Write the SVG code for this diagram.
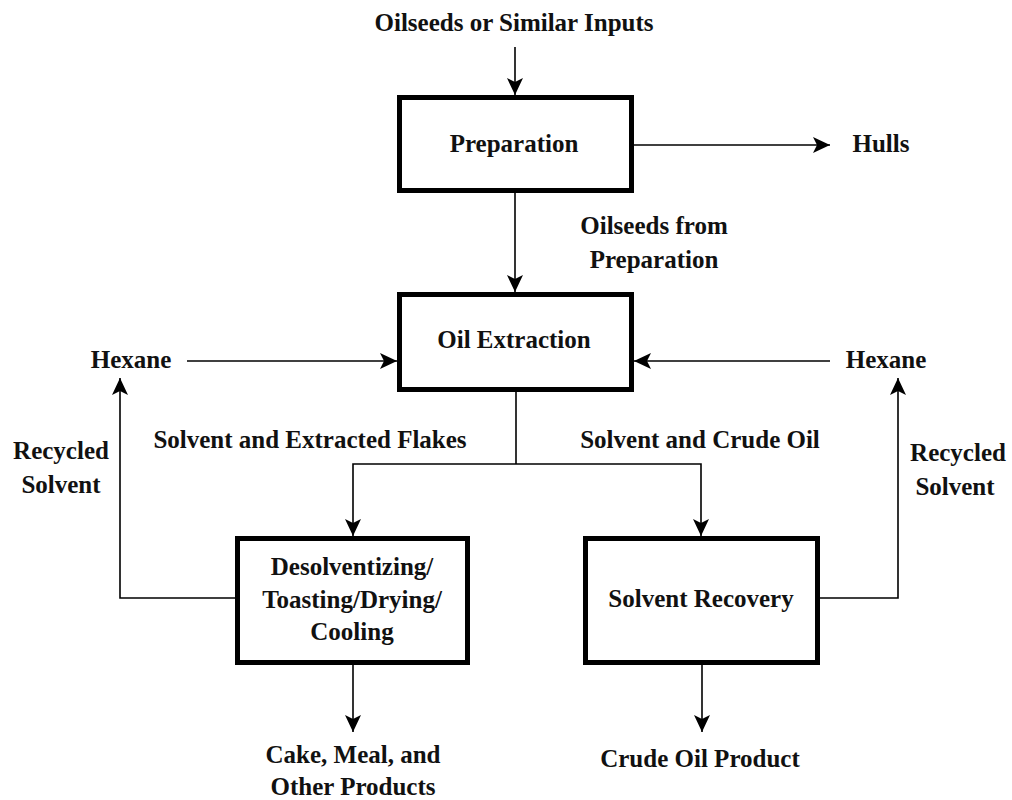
<svg xmlns="http://www.w3.org/2000/svg" width="1012" height="800" viewBox="0 0 1012 800">
<defs>
<marker id="arr" markerUnits="userSpaceOnUse" markerWidth="20" markerHeight="20" refX="17" refY="8" orient="auto">
<path d="M0,0 L17,8 L0,16 L4,8 Z" fill="#000"/>
</marker>
<style>
.box{fill:#fff;stroke:#000;stroke-width:5}
.t{font-family:"Liberation Serif","Times New Roman",serif;font-weight:bold;font-size:25px;fill:#111;text-anchor:middle}
.c{fill:none;stroke:#000;stroke-width:1.6}
</style>
</defs>
<rect width="1012" height="800" fill="#fff"/>
<g id="connectors">
<line class="c" x1="515" y1="47" x2="515" y2="95" marker-end="url(#arr)"/>
<line class="c" x1="515" y1="193" x2="515" y2="292" marker-end="url(#arr)"/>
<line class="c" x1="634" y1="145" x2="830" y2="145" marker-end="url(#arr)"/>
<line class="c" x1="187" y1="361" x2="397" y2="361" marker-end="url(#arr)"/>
<line class="c" x1="830" y1="361" x2="634" y2="361" marker-end="url(#arr)"/>
<line class="c" x1="516" y1="392" x2="516" y2="464"/>
<polyline class="c" points="516,464 353,464 353,536" marker-end="url(#arr)"/>
<polyline class="c" points="516,464 701,464 701,536" marker-end="url(#arr)"/>
<polyline class="c" points="235,598 120,598 120,378" marker-end="url(#arr)"/>
<polyline class="c" points="820,598 898,598 898,378" marker-end="url(#arr)"/>
<line class="c" x1="353" y1="665" x2="353" y2="732" marker-end="url(#arr)"/>
<line class="c" x1="702" y1="665" x2="702" y2="732" marker-end="url(#arr)"/>
</g>
<g id="preparation">
<rect class="box" x="399.5" y="97.5" width="232" height="93"/>
<text class="t" x="514" y="152">Preparation</text>
</g>
<g id="oil-extraction">
<rect class="box" x="399.5" y="294.5" width="232" height="95"/>
<text class="t" x="514" y="348">Oil Extraction</text>
</g>
<g id="desolventizing">
<rect class="box" x="237.5" y="538.5" width="230" height="124"/>
<text class="t" x="352" y="575">Desolventizing/</text>
<text class="t" x="352" y="608">Toasting/Drying/</text>
<text class="t" x="352" y="640">Cooling</text>
</g>
<g id="solvent-recovery">
<rect class="box" x="585.5" y="538.5" width="232" height="124"/>
<text class="t" x="701" y="607">Solvent Recovery</text>
</g>
<g id="labels">
<text class="t" x="514" y="31">Oilseeds or Similar Inputs</text>
<text class="t" x="881" y="152">Hulls</text>
<text class="t" x="654" y="234">Oilseeds from</text>
<text class="t" x="654" y="268">Preparation</text>
<text class="t" x="131" y="368">Hexane</text>
<text class="t" x="886" y="368">Hexane</text>
<text class="t" x="61" y="459">Recycled</text>
<text class="t" x="61" y="493">Solvent</text>
<text class="t" x="958" y="461">Recycled</text>
<text class="t" x="955" y="495">Solvent</text>
<text class="t" x="310" y="448">Solvent and Extracted Flakes</text>
<text class="t" x="700" y="448">Solvent and Crude Oil</text>
<text class="t" x="353" y="763">Cake, Meal, and</text>
<text class="t" x="353" y="795">Other Products</text>
<text class="t" x="700" y="767">Crude Oil Product</text>
</g>
</svg>
